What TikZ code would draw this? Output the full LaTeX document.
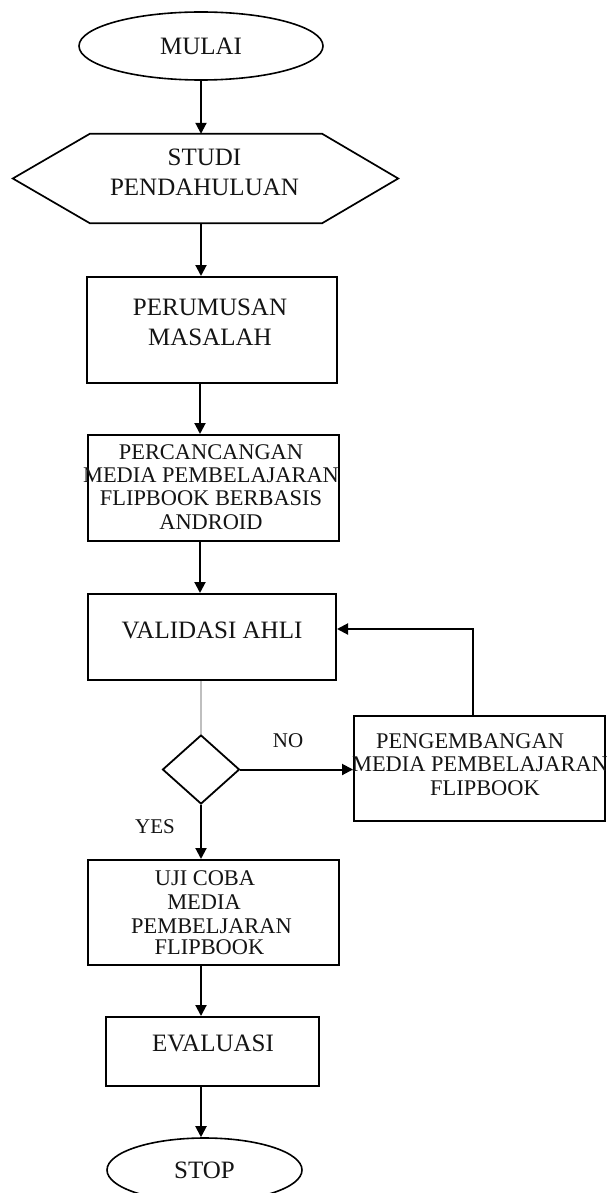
\documentclass[tikz,border=0pt]{standalone}
\usepackage{fontspec}
\setmainfont{Liberation Serif}
\usetikzlibrary{shapes.geometric,arrows.meta}
\begin{document}
\begin{tikzpicture}[x=1pt,y=-1pt,
  box/.style={draw=black, line width=2pt, rectangle, inner sep=0pt},
  oval/.style={ellipse, draw=black, line width=1.6pt, inner sep=0pt, text=black!92, font=\fontsize{25pt}{29pt}\selectfont},
  txt/.style={align=center, inner sep=0pt, text=black!92},
  big/.style={font=\fontsize{25pt}{29.5pt}\selectfont},
  mid/.style={font=\fontsize{22.4pt}{23.3pt}\selectfont},
  lbl/.style={font=\fontsize{21pt}{25pt}\selectfont},
  arr/.style={line width=2pt, draw=black, -{Triangle[length=11pt,width=11pt]}},
]
\fill[white] (0,0) rectangle (607,1193);
\useasboundingbox (0,0) rectangle (607,1193);

\coordinate (ax) at (200,0);

% MULAI
\node[oval, minimum width=244pt, minimum height=68pt] (mulai) at (201,46) {MULAI};

% STUDI PENDAHULUAN (hexagon)
\node[minimum width=232pt, minimum height=89pt, inner sep=0pt] (studi) at (206,178.5) {};
\draw[line width=1.7pt, draw=black] (studi.north west) -- (studi.north east) -- ([xshift=76pt]studi.east) -- (studi.south east) -- (studi.south west) -- ([xshift=-77pt]studi.west) -- cycle;
\node[txt, font=\fontsize{25pt}{30pt}\selectfont] (studiT) at (204.5,172) {STUDI\\PENDAHULUAN};

% PERUMUSAN MASALAH
\node[box, minimum width=250pt, minimum height=106pt] (perumusan) at (212,330) {};
\node[txt, big] (perumusanT) at (210,322.5) {PERUMUSAN\\MASALAH};

% PERCANCANGAN
\node[box, minimum width=251pt, minimum height=106pt] (percancangan) at (213.5,488) {};
\node[txt, mid] (percancanganT) at (211,487) {PERCANCANGAN\\MEDIA PEMBELAJARAN\\FLIPBOOK BERBASIS\\ANDROID};

% VALIDASI AHLI
\node[box, minimum width=248pt, minimum height=86pt] (validasi) at (212,637) {};
\node[txt, big] (validasiT) at (212,630) {VALIDASI AHLI};

% decision
\node[diamond, draw=black, line width=1.8pt, minimum width=77pt, minimum height=69pt, inner sep=0pt] (dec) at (201,769.5) {};

% PENGEMBANGAN
\node[box, minimum width=251pt, minimum height=105pt] (peng) at (479.5,768.5) {};
\node[txt, mid] (peng1) at (470,741) {PENGEMBANGAN};
\node[txt, mid] (peng2) at (480,764) {MEDIA PEMBELAJARAN};
\node[txt, mid] (peng3) at (485,788) {FLIPBOOK};

% labels
\node[txt, lbl] (no) at (288,741) {NO};
\node[txt, lbl] (yes) at (155,827) {YES};

% UJI COBA
\node[box, minimum width=251pt, minimum height=105pt] (uji) at (213.5,912.5) {};
\node[txt, mid] (uji1) at (205,878) {UJI COBA};
\node[txt, mid] (uji2) at (204,902) {MEDIA};
\node[txt, mid] (uji3) at (211.5,926) {PEMBELJARAN};
\node[txt, mid] (uji4) at (209.5,947) {FLIPBOOK};

% EVALUASI
\node[box, minimum width=213pt, minimum height=69pt] (evaluasi) at (212.5,1051.5) {};
\node[txt, big] (evaluasiT) at (213,1043) {EVALUASI};

% STOP
\node[oval, minimum width=195pt, minimum height=64pt] (stop) at (204.5,1170) {STOP};

% connectors
\draw[arr] (mulai.south) -- (mulai.south |- studi.north);
\draw[arr] (studi.south -| mulai.south) -- (perumusan.north -| mulai.south);
\draw[arr] (perumusan.south -| ax) -- (percancangan.north -| ax);
\draw[arr] (percancangan.south -| ax) -- (validasi.north -| ax);
\draw[line width=1.2pt, draw=black!25] (validasi.south -| dec.north) -- (dec.north);
\draw[arr] (dec.east) -- (dec.east -| peng.west);
\coordinate (fb) at (473,629);
\draw[arr] (peng.north -| fb) -- (fb) -- (fb -| validasi.east);
\draw[arr] (dec.south) -- (dec.south |- uji.north);
\draw[arr] (uji.south -| mulai.south) -- (evaluasi.north -| mulai.south);
\draw[arr] (evaluasi.south -| mulai.south) -- (stop.north -| mulai.south);
\end{tikzpicture}
\end{document}
